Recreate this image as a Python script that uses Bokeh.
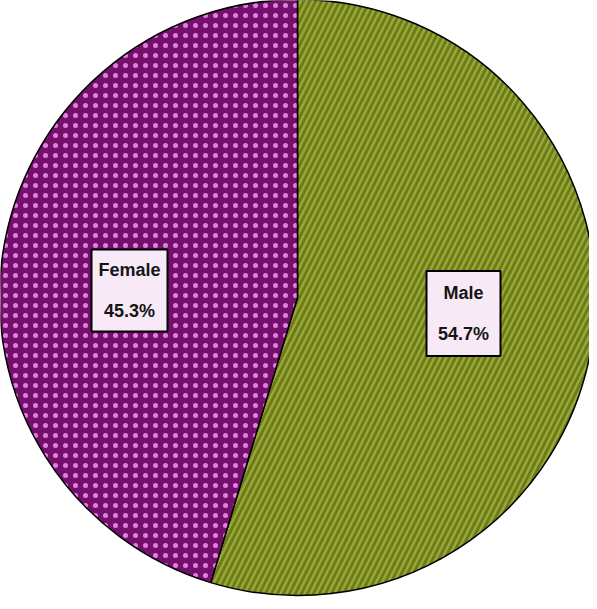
import math
from bokeh.plotting import figure
from bokeh.models import Range1d, ColumnDataSource
from bokeh.core.properties import value
from bokeh.embed import file_html
from bokeh.resources import INLINE

categories = ["Male", "Female"]
shares = [54.7, 45.3]
labels = ["54.7%", "45.3%"]

W, H = 589, 601
cx, cy, R = 297, 304, 298

p = figure(width=W, height=H, output_backend="svg", toolbar_location=None,
           x_range=Range1d(0, W), y_range=Range1d(0, H), min_border=0)
p.axis.visible = False
p.grid.visible = False
p.outline_line_color = None
p.background_fill_color = "white"

starts, ends = [], []
a = math.pi / 2
for s in shares:
    sweep = s / 100 * 2 * math.pi
    starts.append(a - sweep)
    ends.append(a)
    a -= sweep

fills = ["#98aa36", "#74106c"]
hcols = ["#6f7a1c", "#e080de"]
hpats = ["right_diagonal_line", "dot"]
hscales = [12, 10]
hweights = [3, 3]
for i in range(len(categories)):
    p.wedge(x=cx, y=cy, radius=R, start_angle=starts[i], end_angle=ends[i],
            fill_color=fills[i], line_color="black", line_width=1.5,
            hatch_pattern=hpats[i], hatch_color=hcols[i], hatch_scale=hscales[i],
            hatch_weight=hweights[i])

# label box layout (page-derived positions)
lx = [463, 129]
ly = [288, 311]
bw = [74, 76]
bh = [85, 82]
src = ColumnDataSource(dict(x=lx, y=ly, w=bw, h=bh, cat=categories, lab=labels,
                            yt=[v + 21 for v in ly], yb=[v - 20 for v in ly]))
p.rect(x="x", y="y", width="w", height="h", source=src, fill_color="#f7e9f6",
       line_color="black", line_width=2)
p.text(x="x", y="yt", text="cat", source=src, text_align="center", text_baseline="middle",
       text_font=value("Liberation Sans"), text_font_style="bold", text_font_size="18px",
       text_color="#151515")
p.text(x="x", y="yb", text="lab", source=src, text_align="center", text_baseline="middle",
       text_font=value("Liberation Sans"), text_font_style="bold", text_font_size="18px",
       text_color="#151515")

open("out.html", "w").write(file_html(p, INLINE))
